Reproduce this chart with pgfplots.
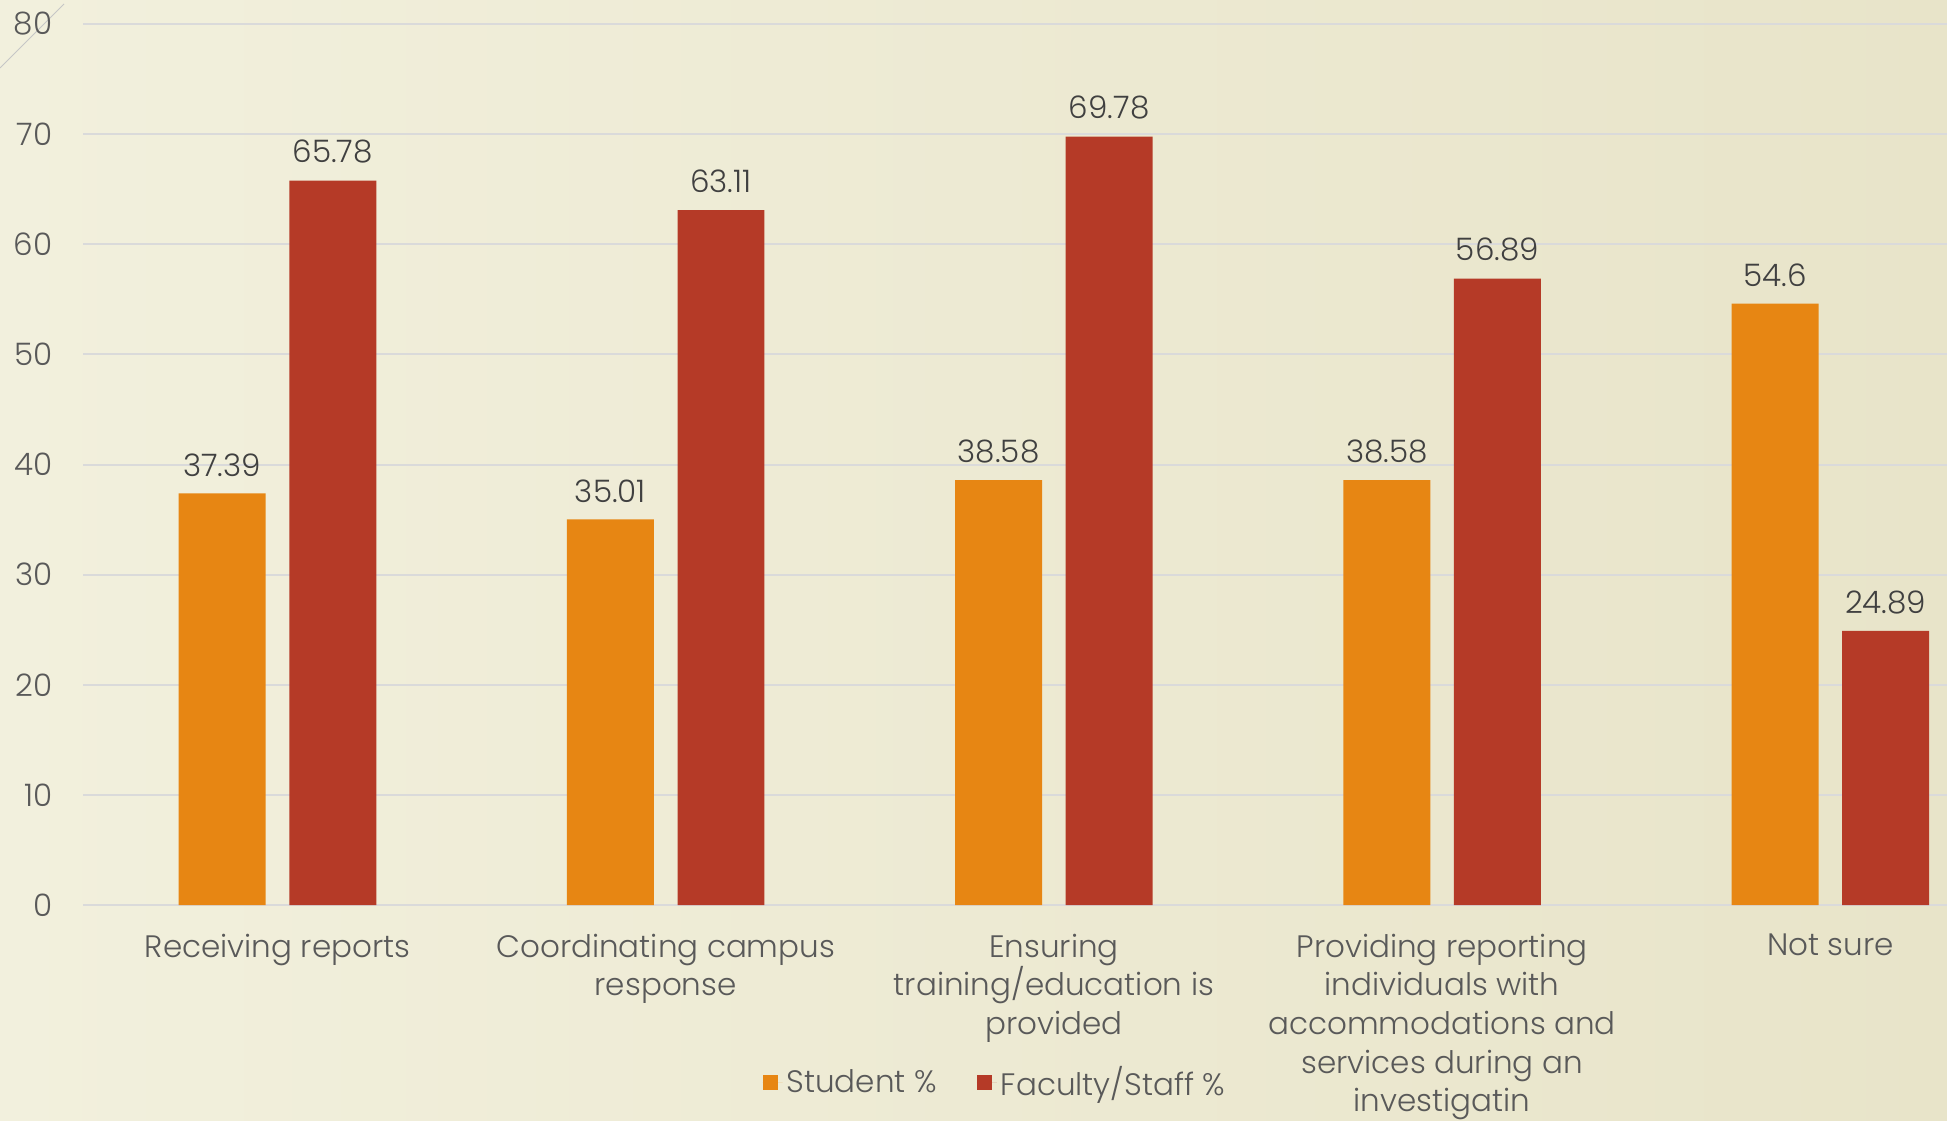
\documentclass[border=0pt]{standalone}
\usepackage{pgfplots}
\pgfplotsset{compat=1.18}
\usepackage{fontspec}
\setmainfont{Poppins}[UprightFont=* Light]
\definecolor{stud}{HTML}{E78613}
\definecolor{fac}{HTML}{B53A27}
\definecolor{lbl}{HTML}{595959}
\definecolor{val}{HTML}{404040}
\definecolor{gridc}{HTML}{DADADA}
\definecolor{bgl}{HTML}{F2F0DD}
\definecolor{bgm}{HTML}{F8F7EE}
\definecolor{bgr}{HTML}{E8E4C9}

\pgfplotstableread{
x student faculty
0 37.39 65.78
1 35.01 63.11
2 38.58 69.78
3 38.58 56.89
4 54.6  24.89
}\rolesdata

\begin{document}
\begin{tikzpicture}
% background, 1 px of the reference = 0.5pt, plot area lower left at (0,0)
\fill[left color=bgl, middle color=bgm, right color=bgr]
  (-41.7pt,-107.5pt) rectangle (931.8pt,452.5pt);
\draw[gray!45, line width=0.4pt] (-41.7pt,418.5pt) -- (-9.7pt,450.5pt);
\begin{axis}[
    at={(0,0)}, anchor=south west,
    x=194.1pt, y=5.506pt,
    scale only axis,
    xmin=-0.5, xmax=4.3,
    ymin=0, ymax=80,
    ytick={0,10,...,80},
    xtick={0,...,4},
    xticklabels={Receiving reports,
      Coordinating campus\\response,
      Ensuring\\training/education is\\provided,
      Providing reporting\\individuals with\\accommodations and\\services during an\\investigatin,
      Not sure},
    axis line style={draw=none},
    major tick length=0pt,
    ymajorgrids,
    grid style={gridc, line width=1pt},
    clip=false,
    ybar=11.8pt,
    bar width=0.224,
    font=\fontsize{15.5}{19.3}\selectfont,
    /pgf/number format/assume math mode=true,
    yticklabel style={color=lbl, xshift=-12pt},
    xticklabel style={color=lbl, align=center, yshift=-11pt},
    nodes near coords,
    every node near coord/.append style={color=val, yshift=5pt},
    legend columns=2,
    legend style={at={(0.4897,-0.201)}, anchor=center, draw=none, fill=none,
      text=lbl, /tikz/every even column/.append style={column sep=18pt}},
    legend image code/.code={\fill[#1] (0pt,-3.75pt) rectangle (7.5pt,3.75pt);
      \path (0pt,0pt) -- (10pt,0pt);},
  ]
  \addplot[fill=stud, draw=none] table[x=x, y=student] {\rolesdata};
  \addplot[fill=fac, draw=none] table[x=x, y=faculty] {\rolesdata};
  \legend{Student \%, Faculty/Staff \%}
\end{axis}
\pgfresetboundingbox
\path[use as bounding box] (-41.7pt,-107.5pt) rectangle (931.8pt,452.5pt);
\end{tikzpicture}
\end{document}
